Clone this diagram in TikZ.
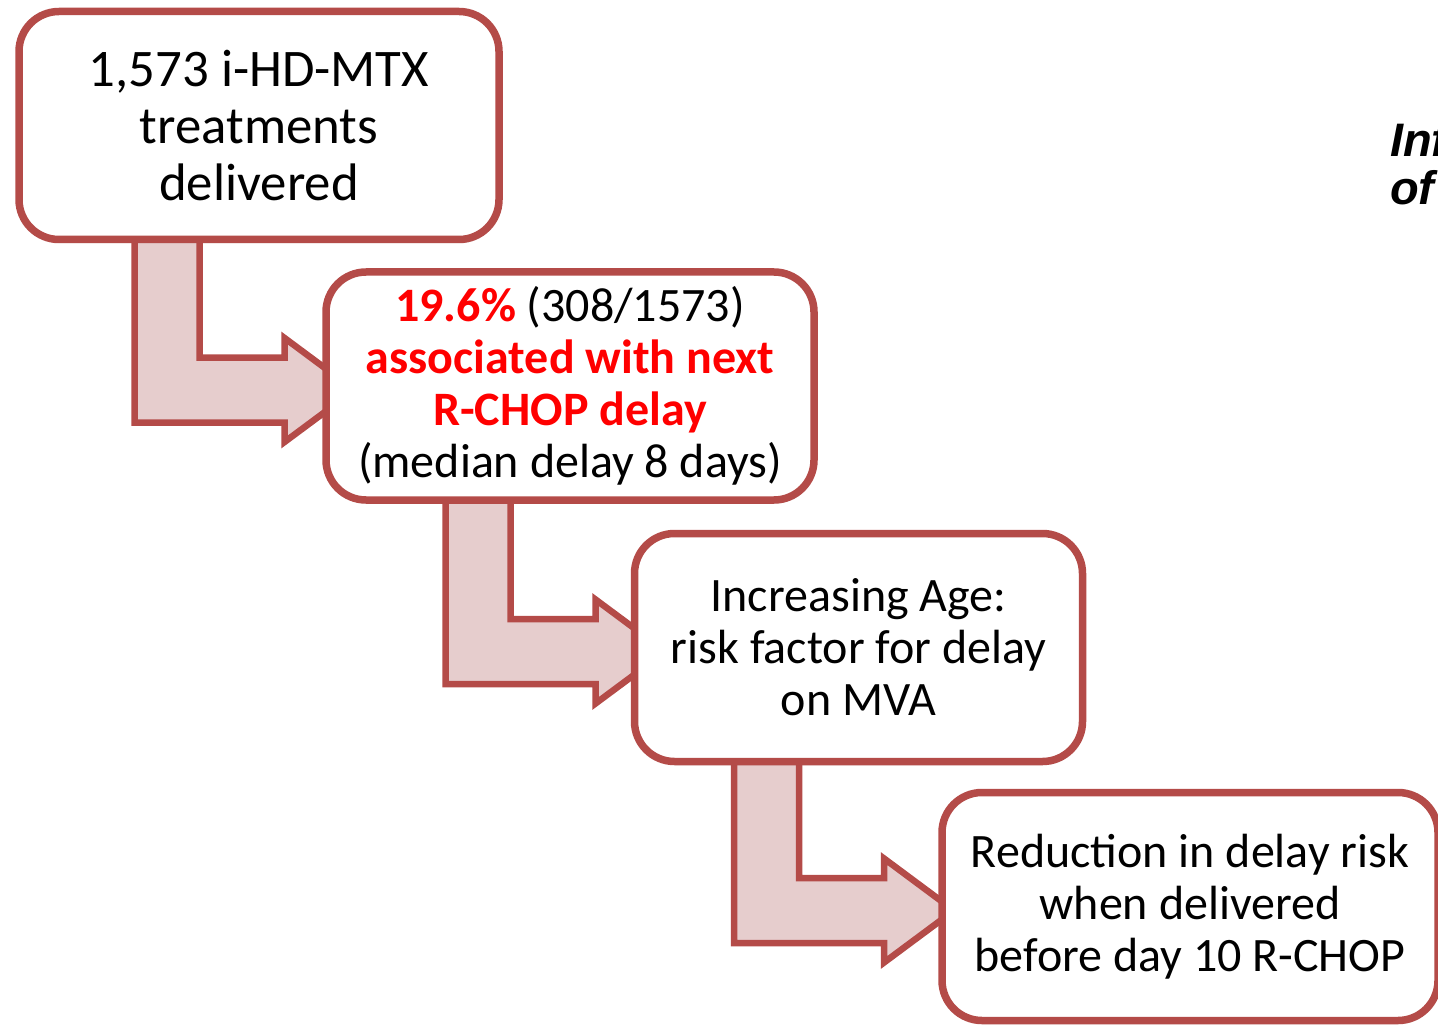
\documentclass[tikz,border=0pt]{standalone}
\usepackage{fontspec}
\setmainfont{Carlito}
\newfontfamily\headfont{Liberation Sans}
\usetikzlibrary{calc,shadows}
\pgfdeclarelayer{bg}
\pgfsetlayers{bg,main}
\definecolor{boxred}{RGB}{180,75,72}
\definecolor{arrowfill}{RGB}{230,205,205}
\definecolor{textred}{RGB}{255,0,0}
\tikzset{
  stepbox/.style={draw=boxred, line width=3.75pt, fill=white, rounded corners=20pt,
    inner sep=0pt, align=center, minimum height=114pt,
    font=\fontsize{24}{26}\selectfont,
    drop shadow={opacity=0.18, shadow xshift=0.6pt, shadow yshift=-1.8pt}},
  bentarrow/.style={draw=boxred, line width=3.25pt, fill=arrowfill, line join=miter},
  headtext/.style={anchor=base west, inner sep=0pt, outer sep=0pt,
    font=\headfont\fontsize{23.5}{25}\selectfont\bfseries\itshape},
}
% bent block arrow: down out of #1, then right into #2
\newcommand{\bendarrow}[2]{%
  \path[bentarrow] let \p1=(#1.south), \p2=(#2.west) in
    (\x1-62.25pt,\y1+6pt) -- (\x1-62.25pt,\y2-18.25pt) -- (\x1+12.75pt,\y2-18.25pt)
    -- (\x1+12.75pt,\y2-28pt) -- (\x1+47.75pt,\y2-2pt) -- (\x1+12.75pt,\y2+24pt)
    -- (\x1+12.75pt,\y2+14.25pt) -- (\x1-29.75pt,\y2+14.25pt) -- (\x1-29.75pt,\y1+6pt) -- cycle;}
\begin{document}
\begin{tikzpicture}[x=0.5pt,y=-0.5pt]
\useasboundingbox (0,0) rectangle (1438,1026);
\begin{scope}
\clip (0,0) rectangle (1438,1026);

\node[stepbox, minimum width=240pt, font=\fontsize{26.4}{28.5}\selectfont] (treat) at (259,125.5)
  {1,573 i-HD-MTX\\treatments\\delivered};

\node[stepbox, minimum width=244pt] (delay) at (570,386)
  {{\color{textred}\bfseries 19.6\%} (308/1573)\\
   {\color{textred}\bfseries associated with next}\\
   {\color{textred}\bfseries R-CHOP delay}\\
   (median delay 8 days)};

\node[stepbox, minimum width=224pt] (age) at (858.5,647.5)
  {Increasing Age:\\risk factor for delay\\on MVA};

\node[stepbox, minimum width=248pt] (timing) at (1190,906.5)
  {Reduction in delay risk\\when delivered\\before day 10 R-CHOP};

\begin{pgfonlayer}{bg}
\bendarrow{treat}{delay}
\bendarrow{delay}{age}
\bendarrow{age}{timing}
\end{pgfonlayer}

\node[headtext] (inf) at (1390,157) {Inf};
\node[headtext] (of) at (1390,205) {of};
\end{scope}
\end{tikzpicture}
\end{document}
